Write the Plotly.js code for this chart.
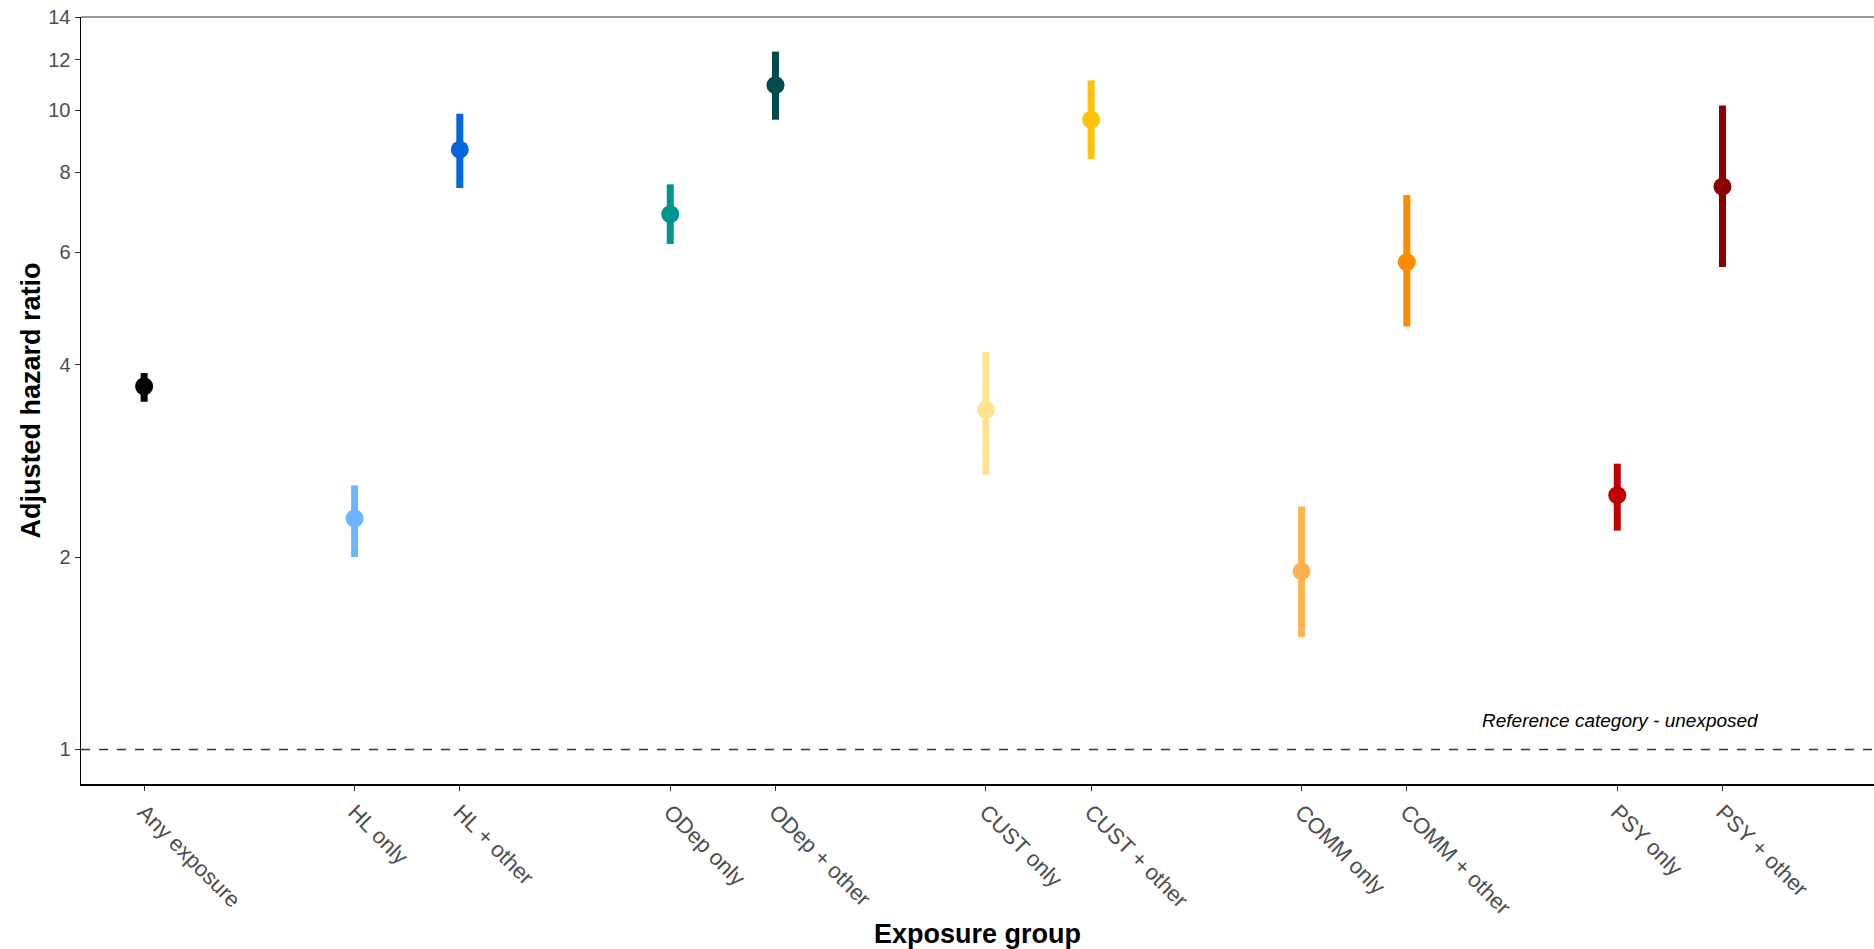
<!DOCTYPE html>
<html>
<head>
<meta charset="utf-8">
<script src="https://cdn.plot.ly/plotly-3.0.1.min.js"></script>
<style>
  html, body { margin: 0; padding: 0; background: #ffffff; }
  #chart { width: 1874px; height: 949px; }
</style>
</head>
<body>
<div id="chart"></div>
<script>
// Exposure groups, with blank slots between families
const groups = ["Any exposure", "", "HL only", "HL + other", "", "ODep only", "ODep + other", "",
                "CUST only", "CUST + other", "", "COMM only", "COMM + other", "", "PSY only", "PSY + other", ""];

const labels = ["Any exposure", "HL only", "HL + other", "ODep only", "ODep + other",
                "CUST only", "CUST + other", "COMM only", "COMM + other", "PSY only", "PSY + other"];
const hazardRatio = [3.70, 2.30, 8.68, 6.88, 10.95, 3.40, 9.67, 1.90, 5.79, 2.50, 7.60];
const ciLower     = [3.50, 2.00, 7.56, 6.18, 9.67,  2.69, 8.39, 1.50, 4.59, 2.20, 5.69];
const ciUpper     = [3.88, 2.59, 9.88, 7.66, 12.36, 4.19, 11.14, 2.40, 7.37, 2.80, 10.18];
const colours = ["#000000", "#6CB4FF", "#0068DB", "#00948F", "#004B4B",
                 "#FFE391", "#FFC20A", "#FFB04F", "#FF8C00", "#C00000", "#8B0000"];

const yTicks = [1, 2, 4, 6, 8, 10, 12, 14];

// one trace per group so each keeps its own colour
const traces = labels.map((lab, i) => ({
  type: "scatter",
  mode: "markers",
  x: [groups.indexOf(lab) + 1],
  y: [hazardRatio[i]],
  error_y: {
    type: "data", symmetric: false,
    array: [ciUpper[i] - hazardRatio[i]],
    arrayminus: [hazardRatio[i] - ciLower[i]],
    color: colours[i], thickness: 7, width: 0
  },
  marker: { color: colours[i], size: 18 },
  showlegend: false,
  hoverinfo: "x+y"
}));

const layout = {
  width: 1874, height: 949,
  paper_bgcolor: "#ffffff", plot_bgcolor: "#ffffff",
  margin: { l: 81, r: 0, t: 17, b: 165 },
  font: { family: "Liberation Sans, Arial, sans-serif" },
  xaxis: {
    range: [0.4, 17.44],
    tickvals: labels.map(lab => groups.indexOf(lab) + 1),
    ticktext: labels,
    tickangle: 45,
    ticks: "outside", ticklen: 5, tickwidth: 1, tickcolor: "#333333",
    tickfont: { size: 22, color: "#4d4d4d", family: "Liberation Sans, Arial, sans-serif" },
    showline: true, linecolor: "#000000", linewidth: 1.5,
    showgrid: false, zeroline: false,
    title: { text: "<b>Exposure group</b>", standoff: 12,
             font: { size: 27, color: "#000000", family: "Liberation Sans Narrow, Arial Narrow, Liberation Sans, sans-serif" } }
  },
  yaxis: {
    type: "log",
    range: [Math.log10(0.883), Math.log10(14)],
    tickvals: yTicks,
    ticktext: yTicks.map(String),
    ticks: "outside", ticklen: 5, tickwidth: 1, tickcolor: "#333333",
    tickfont: { size: 20, color: "#4d4d4d", family: "Liberation Sans, Arial, sans-serif" },
    showline: true, linecolor: "#000000", linewidth: 1.5,
    showgrid: false, zeroline: false,
    title: { text: "<b>Adjusted hazard ratio</b>", standoff: 0,
             font: { size: 27, color: "#000000", family: "Liberation Sans Narrow, Arial Narrow, Liberation Sans, sans-serif" } }
  },
  shapes: [
    { type: "line", xref: "paper", yref: "y", x0: 0, x1: 1, y0: 1, y1: 1,
      line: { color: "#333333", width: 1.5, dash: "dash" } },
    { type: "line", xref: "paper", yref: "paper", x0: 0, x1: 1, y0: 1, y1: 1,
      line: { color: "#333333", width: 1 } }
  ],
  annotations: [
    { x: 15.03, y: Math.log10(1.11), xref: "x", yref: "y", showarrow: false,
      text: "<i>Reference category - unexposed</i>",
      font: { size: 19, color: "#000000", family: "Liberation Sans, Arial, sans-serif" } }
  ]
};

Plotly.newPlot("chart", traces, layout, { displayModeBar: false, staticPlot: true });
</script>
</body>
</html>
